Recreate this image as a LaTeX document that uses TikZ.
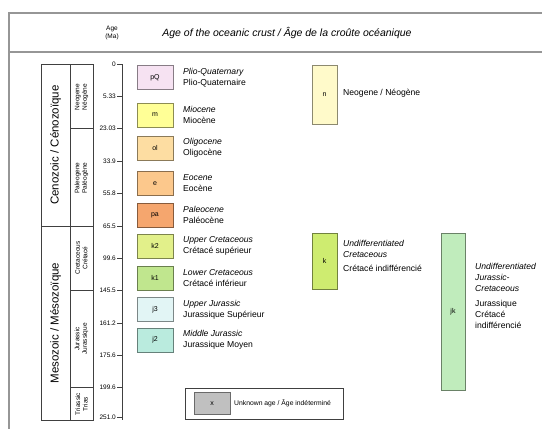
\documentclass[tikz,border=0pt]{standalone}
\usepackage{fontspec}
\setmainfont{Liberation Sans}
\usepackage{tikz}
\definecolor{framegray}{RGB}{150,150,150}
\definecolor{pq}{RGB}{246,226,242}
\definecolor{mio}{RGB}{255,255,150}
\definecolor{oli}{RGB}{253,221,162}
\definecolor{eoc}{RGB}{252,200,140}
\definecolor{pal}{RGB}{245,166,110}
\definecolor{kup}{RGB}{226,240,138}
\definecolor{klo}{RGB}{192,230,142}
\definecolor{jup}{RGB}{226,245,245}
\definecolor{jmi}{RGB}{186,235,222}
\definecolor{neo}{RGB}{255,250,202}
\definecolor{kun}{RGB}{206,236,112}
\definecolor{jku}{RGB}{192,236,188}
\definecolor{unk}{RGB}{192,192,192}

\begin{document}
\begin{tikzpicture}[x=1pt, y=-1pt,
  frameline/.style={draw=framegray, line width=1.2pt},
  chartline/.style={draw=black!75, line width=0.6pt},
  agebox/.style={draw=#1!55!black, fill=#1, line width=0.9pt, inner sep=0pt,
    minimum width=36pt, minimum height=24pt, font=\fontsize{7}{8}\selectfont},
  desc/.style={anchor=west, align=left, inner sep=0pt, font=\fontsize{8.6}{11}\selectfont},
  agelab/.style={anchor=east, inner sep=1pt, font=\fontsize{6.5}{7}\selectfont},
  eralab/.style={rotate=90, font=\fontsize{11.5}{13}\selectfont},
  periodlab/.style={rotate=90, align=center, font=\fontsize{6.5}{7.5}\selectfont}]
\useasboundingbox (0,0) rectangle (542,429);
\draw[frameline] (9,429) -- (9,13) -- (542,13);
\draw[frameline] (9,52) -- (542,52);
\node[align=center, font=\fontsize{6.5}{7.5}\selectfont] (agehd) at (112,33) {Age\\(Ma)};
\node[font=\fontsize{10.5}{12}\selectfont\itshape] (crusthd) at (287,33) {Age of the oceanic crust / Âge de la croûte océanique};

\coordinate (axtop) at (122,64);
\coordinate (axbot) at (122,420);
\draw[chartline] (axtop) -- (axbot);
\draw[chartline] (41,64) rectangle (93,420);
\draw[chartline] (70,64) -- (70,420);
\draw[chartline] (41,225.8) -- (93,225.8);
\draw[chartline] (70,128.7) -- (93,128.7);
\draw[chartline] (70,290.5) -- (93,290.5);
\draw[chartline] (70,387.6) -- (93,387.6);
\node[eralab] (ceno) at (55.5,145) {Cenozoic / Cénozoïque};
\node[eralab] (meso) at (55.5,323) {Mesozoic / Mésozoïque};
\node[periodlab] (neog) at (81.5,97) {Neogene\\Néogène};
\node[periodlab] (paleog) at (81.5,178) {Paleogene\\Paléogène};
\node[periodlab] (creta) at (81.5,258) {Cretaceous\\Crétacé};
\node[periodlab] (jura) at (81.5,339) {Jurassic\\Jurassique};
\node[periodlab] (trias) at (81.5,404) {Triassic\\Trias};

\node[agelab] (a0) at (117,64) {0}; \draw[chartline] (a0.east) -- (a0.east -| axtop);
\node[agelab] (a1) at (117,96.4) {5.33}; \draw[chartline] (a1.east) -- (a1.east -| axtop);
\node[agelab] (a2) at (117,128.7) {23.03}; \draw[chartline] (a2.east) -- (a2.east -| axtop);
\node[agelab] (a3) at (117,161.1) {33.9}; \draw[chartline] (a3.east) -- (a3.east -| axtop);
\node[agelab] (a4) at (117,193.4) {55.8}; \draw[chartline] (a4.east) -- (a4.east -| axtop);
\node[agelab] (a5) at (117,225.8) {65.5}; \draw[chartline] (a5.east) -- (a5.east -| axtop);
\node[agelab] (a6) at (117,258.2) {99.6}; \draw[chartline] (a6.east) -- (a6.east -| axtop);
\node[agelab] (a7) at (117,290.5) {145.5}; \draw[chartline] (a7.east) -- (a7.east -| axtop);
\node[agelab] (a8) at (117,322.9) {161.2}; \draw[chartline] (a8.east) -- (a8.east -| axtop);
\node[agelab] (a9) at (117,355.2) {175.6}; \draw[chartline] (a9.east) -- (a9.east -| axtop);
\node[agelab] (a10) at (117,387.6) {199.6}; \draw[chartline] (a10.east) -- (a10.east -| axtop);
\node[agelab] (a11) at (117,417) {251.0}; \draw[chartline] (a11.east) -- (a11.east -| axtop);

\node[agebox=pq] (pQ) at (155,77.5) {pQ};
\node[desc] (pQtxt) at (183,77.5) {{\itshape Plio-Quaternary}\\Plio-Quaternaire};
\node[agebox=mio] (m) at (155,115) {m};
\node[desc] (mtxt) at (183,115) {{\itshape Miocene}\\Miocène};
\node[agebox=oli] (ol) at (155,148) {ol};
\node[desc] (oltxt) at (183,148) {{\itshape Oligocene}\\Oligocène};
\node[agebox=eoc] (e) at (155,183.5) {e};
\node[desc] (etxt) at (183,183.5) {{\itshape Eocene}\\Eocène};
\node[agebox=pal] (pa) at (155,215) {pa};
\node[desc] (patxt) at (183,215) {{\itshape Paleocene}\\Paléocène};
\node[agebox=kup] (k2) at (155,246) {k2};
\node[desc] (k2txt) at (183,246) {{\itshape Upper Cretaceous}\\Crétacé supérieur};
\node[agebox=klo] (k1) at (155,278) {k1};
\node[desc] (k1txt) at (183,278) {{\itshape Lower Cretaceous}\\Crétacé inférieur};
\node[agebox=jup] (j3) at (155,309.5) {j3};
\node[desc] (j3txt) at (183,309.5) {{\itshape Upper Jurassic}\\Jurassique Supérieur};
\node[agebox=jmi] (j2) at (155,340) {j2};
\node[desc] (j2txt) at (183,340) {{\itshape Middle Jurassic}\\Jurassique Moyen};

\node[agebox=neo, minimum width=25pt, minimum height=59pt] (n) at (324.5,94.5) {n};
\node[desc] (ntxt) at (343,93) {Neogene / Néogène};
\node[agebox=kun, minimum width=25pt, minimum height=56pt] (k) at (324.5,261) {k};
\node[desc, anchor=north west] (ktxt) at (343,240.5) {{\itshape Undifferentiated}\\{\itshape Cretaceous}\\[3pt]Crétacé indifférencié};
\node[agebox=jku, minimum width=24pt, minimum height=157pt] (jk) at (453,311.5) {jk};
\node[desc, anchor=north west] (jktxt) at (475,263.5) {{\itshape Undifferentiated}\\{\itshape Jurassic-}\\{\itshape Cretaceous}\\[4pt]Jurassique\\Crétacé\\indifférencié};

\draw[chartline] (185,388) rectangle (343,419);
\node[agebox=unk, minimum height=22pt] (x) at (212,403.5) {x};
\node[desc, font=\fontsize{6.8}{8}\selectfont] (xtxt) at (234,403.5) {Unknown age / Âge indéterminé};
\end{tikzpicture}
\end{document}
